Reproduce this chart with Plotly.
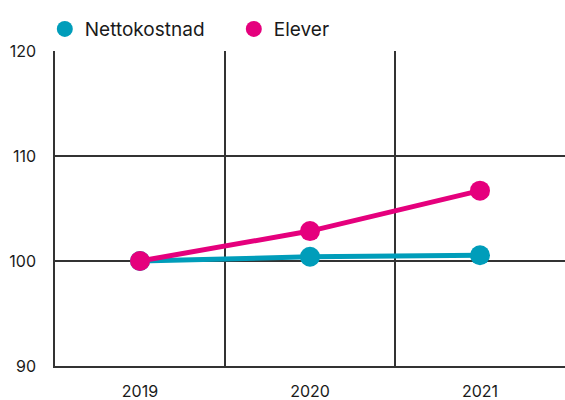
import plotly.graph_objects as go

years = ["2019", "2020", "2021"]
nettokostnad = [100.0, 100.4, 100.55]
elever = [100.0, 102.85, 106.7]
y_ticks = [90, 100, 110, 120]

teal = "#009DBA"
pink = "#E5007D"
font_family = "Inter, 'Open Sans', sans-serif"

fig = go.Figure()
fig.add_trace(go.Scatter(x=years, y=nettokostnad, mode="lines+markers", name="Nettokostnad",
                         line=dict(color=teal, width=5), marker=dict(size=20, color=teal),
                         showlegend=False))
fig.add_trace(go.Scatter(x=years, y=elever, mode="lines+markers", name="Elever",
                         line=dict(color=pink, width=5), marker=dict(size=20, color=pink),
                         showlegend=False))
# legend-only entries (circle symbols)
fig.add_trace(go.Scatter(x=[None], y=[None], mode="markers", name="Nettokostnad",
                         marker=dict(size=20, color=teal)))
fig.add_trace(go.Scatter(x=[None], y=[None], mode="markers", name="Elever",
                         marker=dict(size=20, color=pink)))

fig.update_layout(
    width=565, height=400,
    margin=dict(l=55, r=0, t=51, b=34, autoexpand=False),
    paper_bgcolor="white", plot_bgcolor="white",
    font=dict(family=font_family, size=16, color="#1a1a1a"),
    legend=dict(orientation="h", x=-0.02, xanchor="left", y=1.13, yanchor="top",
                font=dict(size=19), itemsizing="trace",
                traceorder="normal", entrywidth=144, entrywidthmode="pixels"),
    showlegend=True,
)
fig.update_xaxes(type="category", range=[-0.5, 2.5], tickson="boundaries",
                 showgrid=True, gridcolor="#333333", gridwidth=1.5,
                 showline=True, linecolor="#333333", linewidth=1.5,
                 ticks="", ticklabelstandoff=10, zeroline=False, fixedrange=True)
fig.update_yaxes(range=[90, 120], tickvals=y_ticks, ticktext=[str(v) for v in y_ticks],
                 showgrid=True, gridcolor="#333333", gridwidth=1.5,
                 showline=True, linecolor="#333333", linewidth=1.5,
                 ticks="", ticklabelstandoff=14, zeroline=False, fixedrange=True)

fig.write_html("out.html", config={"displayModeBar": False},
               post_script="document.body.style.margin='0';")
